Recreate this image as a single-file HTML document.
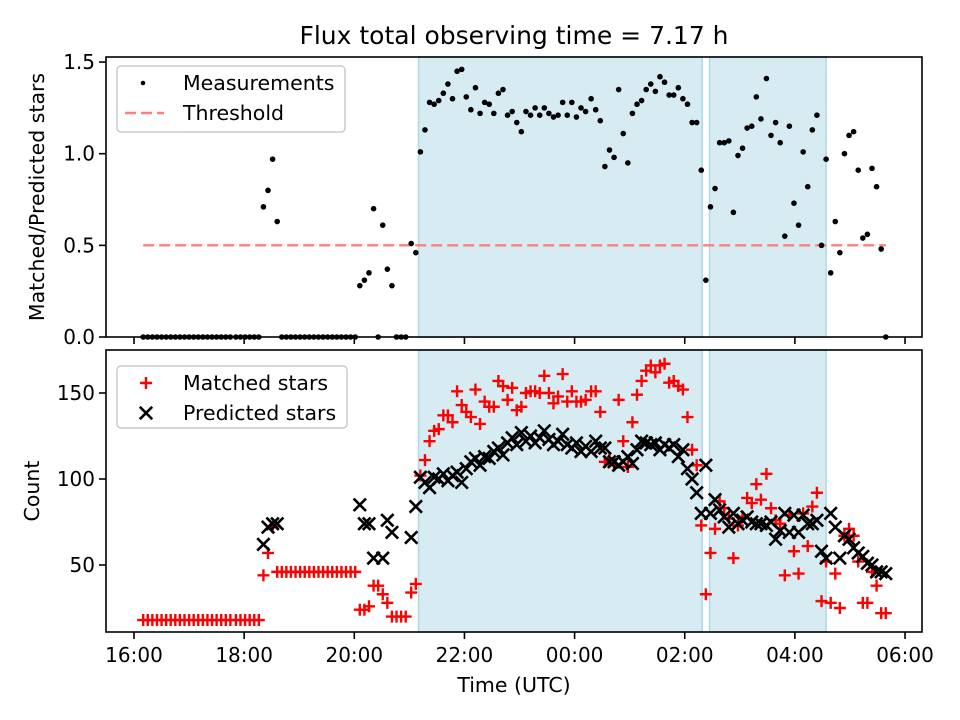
<!DOCTYPE html>
<html><head><meta charset="utf-8"><style>
html,body{margin:0;padding:0;background:#fff}
svg{display:block;font-family:"DejaVu Sans","Liberation Sans",sans-serif}
</style></head><body>
<svg id="chart" width="960" height="720" viewBox="0 0 960 720" xmlns="http://www.w3.org/2000/svg">
<rect width="960" height="720" fill="#fff"/>
<text x="514" y="44" font-size="25" text-anchor="middle">Flux total observing time = 7.17 h</text>
<g id="topPanel"></g>
<g id="botPanel"></g>
<text transform="translate(44,197) rotate(-90)" font-size="20.5" text-anchor="middle">Matched/Predicted stars</text>
<text transform="translate(39,491) rotate(-90)" font-size="20.5" text-anchor="middle">Count</text>
<text x="514" y="692" font-size="20.5" text-anchor="middle">Time (UTC)</text>
</svg>
<script>
const minutes = [10,15,20,25,30,35,40,45,50,55,60,65,70,75,80,85,90,95,100,105,
111,116,121,126,131,136,141,146,151,156,161,166,171,176,181,186,191,196,201,206,211,216,221,226,231,236,241,246,251,256,261,266,271,276,281,286,291,296,
302,307,312,317,322,327,332,337,342,347,352,357,362,367,372,377,382,387,392,397,402,407,412,417,422,427,432,437,442,447,452,457,462,467,472,477,482,487,492,
498,503,508,513,518,523,528,533,538,543,548,553,558,563,568,573,578,583,588,593,598,603,608,613,618,623,628,633,638,643,648,653,658,663,668,673,678,683,
689,694,699,704,709,714,719,724,729,734,739,744,749,754,759,764,769,774,779,784,789,794,799,804,809,814,819];
const ratio = [0,0,0,0,0,0,0,0,0,0,0,0,0,0,0,0,0,0,0,0,0,0,0,0,0,0,
0.71,0.80,0.97,0.63,0,0,0,0,0,0,0,0,0,0,0,0,0,0,0,0,0,
0.28,0.31,0.35,0.70,0,0.61,0.37,0.28,0,0,0,0.51,0.46,
1.01,1.13,1.28,1.27,1.29,1.33,1.38,1.30,1.45,1.46,1.31,1.24,1.36,1.22,1.28,1.27,1.22,1.33,1.35,1.21,
1.23,1.17,1.12,1.23,1.21,1.25,1.21,1.25,1.22,1.20,1.21,1.28,1.21,1.28,1.20,1.25,1.23,1.30,1.24,1.18,
0.93,1.02,0.98,1.35,1.11,0.95,1.22,1.27,1.29,1.35,1.38,1.34,1.42,1.39,1.32,1.32,1.36,1.30,1.27,1.17,
1.17,0.91,0.31,0.71,0.81,1.06,1.06,1.07,0.68,0.99,1.03,1.14,1.15,1.31,1.19,1.41,1.10,1.17,1.06,0.55,
1.15,0.73,0.61,1.01,0.82,1.13,1.21,0.50,0.97,0.35,0.63,0.46,1.00,1.10,1.12,0.91,0.54,0.56,0.92,0.82,0.48,0];
const matched = [18,18,18,18,18,18,18,18,18,18,18,18,18,18,18,18,18,18,18,18,18,18,18,18,18,18,
44,57,72,46,46,46,46,46,46,46,46,46,46,46,46,46,46,46,46,46,46,
24,24,26,38,38,33,28,20,20,20,20,34,39,
102,111,122,128,129,137,137,133,151,143,139,136,152,132,145,142,142,157,154,146,
153,140,142,150,151,151,150,160,150,144,148,161,145,151,145,145,146,151,151,139,
110,112,108,146,122,107,133,149,157,163,166,162,166,167,156,157,154,152,136,117,
108,73,33,57,71,87,83,77,54,73,78,89,86,97,88,103,83,76,74,44,
79,58,45,80,61,84,92,29,52,28,45,25,67,71,67,52,28,28,46,38,22,22];
const predicted = [null,null,null,null,null,null,null,null,null,null,null,null,null,null,null,null,null,null,null,null,null,null,null,null,null,null,
62,72,74,74,null,null,null,null,null,null,null,null,null,null,null,null,null,null,null,null,null,
85,74,74,54,null,54,76,69,null,null,null,66,84,
101,98,95,101,100,103,99,102,104,98,106,110,112,108,113,112,116,118,114,121,
124,120,127,122,125,121,124,128,123,120,122,126,120,118,121,116,119,116,122,118,
118,110,110,108,110,113,109,117,122,121,120,121,117,120,118,120,113,117,106,100,
92,80,108,80,88,82,78,72,80,74,76,78,75,74,74,73,75,65,70,80,
69,79,69,79,74,74,76,58,54,80,72,54,67,65,60,57,55,51,50,46,46,45];
const spans = [[310,619],[627,754]];
const threshold = 0.5;
const xTickMin = [0,120,240,360,480,600,720,840];
const xTickLabels = ["16:00","18:00","20:00","22:00","00:00","02:00","04:00","06:00"];
const topTicks = [0,0.5,1.0,1.5];
const topTickLabels = ["0.0","0.5","1.0","1.5"];
const botTicks = [50,100,150];
const botTickLabels = ["50","100","150"];

const NS="http://www.w3.org/2000/svg";
const L=106,R=922;
function xs(m){return 134+m*0.9179;}
function yTop(v){return 337-v*183.3;}
function yBot(v){return 479-(v-100)*1.72;}
function mk(tag,attrs,parent){const e=document.createElementNS(NS,tag);for(const k in attrs)e.setAttribute(k,attrs[k]);parent.appendChild(e);return e;}
const topG=document.getElementById('topPanel'), botG=document.getElementById('botPanel');

function panel(g,y0,y1,yf,ticks,labels,showX,pre){
  spans.forEach((s,i)=>{
    const r=mk('rect',{x:xs(s[0]),y:y0,width:xs(s[1])-xs(s[0]),height:y1-y0,fill:'#add8e6','fill-opacity':0.5,stroke:'#add8e6','stroke-width':1.5},g);
    
    
  });
  ticks.forEach((t,i)=>{
    const y=yf(t);
    const l=mk('line',{x1:L-7,x2:L,y1:y,y2:y,stroke:'#000','stroke-width':1.6},g);
    
    
    const tx=mk('text',{x:L-11,y:y+7,'font-size':20,'text-anchor':'end'},g);
    tx.textContent=labels[i];
    
    
  });
  xTickMin.forEach((m,i)=>{
    const x=xs(m);
    const l=mk('line',{x1:x,x2:x,y1:y1,y2:y1+7,stroke:'#000','stroke-width':1.6},g);
    
    
    if(showX){
      const tx=mk('text',{x:x,y:y1+30,'font-size':20,'text-anchor':'middle'},g);
      tx.textContent=xTickLabels[i];
      
      
    }
  });
}
function frame(g,y0,y1,pre){
  const f=mk('rect',{x:L,y:y0,width:R-L,height:y1-y0,fill:'none',stroke:'#000','stroke-width':1.6},g);
  
  
}
function plus(g,x,y,s,name){
  const p=mk('path',{d:`M${x-s} ${y}H${x+s}M${x} ${y-s}V${y+s}`,stroke:'#ff0000','stroke-width':2.4,fill:'none'},g);
  
  
}
function cross(g,x,y,s,name){
  const p=mk('path',{d:`M${x-s} ${y-s}L${x+s} ${y+s}M${x-s} ${y+s}L${x+s} ${y-s}`,stroke:'#000','stroke-width':2.6,fill:'none'},g);
  
  
}

// TOP PANEL
panel(topG,57,337,yTop,topTicks,topTickLabels,false,'top');
const th=mk('line',{x1:xs(minutes[0]),x2:xs(minutes[minutes.length-1]),y1:yTop(threshold),y2:yTop(threshold),stroke:'#ff7f7f','stroke-width':2.4,'stroke-dasharray':'11 5'},topG);


ratio.forEach((v,i)=>{
  if(v===null)return;
  const c=mk('circle',{cx:xs(minutes[i]),cy:yTop(v),r:2.8,fill:'#000'},topG);
  
  
});
frame(topG,57,337,'top');

// BOTTOM PANEL
const clipDef=mk('clipPath',{id:'bclip'},botG);
mk('rect',{x:L,y:350,width:R-L,height:282},clipDef);
panel(botG,350,632,yBot,botTicks,botTickLabels,true,'bottom');
const marks=mk('g',{'clip-path':'url(#bclip)'},botG);


matched.forEach((v,i)=>{
  if(v===null)return;
  plus(marks,xs(minutes[i]),yBot(v),6,'matched-star-point');
});
predicted.forEach((v,i)=>{
  if(v===null)return;
  cross(marks,xs(minutes[i]),yBot(v),6.2,'predicted-star-point');
});
frame(botG,350,632,'bottom');

// LEGENDS
function legend(g,y,h,w,entries,pre){
  const lg=mk('g',{},g);
  
  
  mk('rect',{x:117,y:y,width:w,height:h,rx:4,fill:'#fff','fill-opacity':0.8,stroke:'#cccccc','stroke-width':1.5},lg);
  entries.forEach((e,i)=>{
    const cy=y+17+i*30;
    const gg=mk('g',{},lg);
    
    
    e.draw(gg,143,cy);
    const t=mk('text',{x:183,y:cy+7,'font-size':20.5},gg);
    t.textContent=e.label;
  });
}
legend(topG,66,66,228,[
 {key:'measurements',label:'Measurements',draw:(g,x,y)=>mk('circle',{cx:x,cy:y,r:2.3,fill:'#000'},g)},
 {key:'threshold',label:'Threshold',draw:(g,x,y)=>mk('line',{x1:x-18,x2:x+21,y1:y,y2:y,stroke:'#ff7f7f','stroke-width':2.4,'stroke-dasharray':'11 5'},g)}
],'top');
legend(botG,366,62,230,[
 {key:'matched',label:'Matched stars',draw:(g,x,y)=>plus(g,x+3,y,6,'legend-plus-marker')},
 {key:'predicted',label:'Predicted stars',draw:(g,x,y)=>cross(g,x+3,y,6.2,'legend-x-marker')}
],'bottom');
</script>
</body></html>
